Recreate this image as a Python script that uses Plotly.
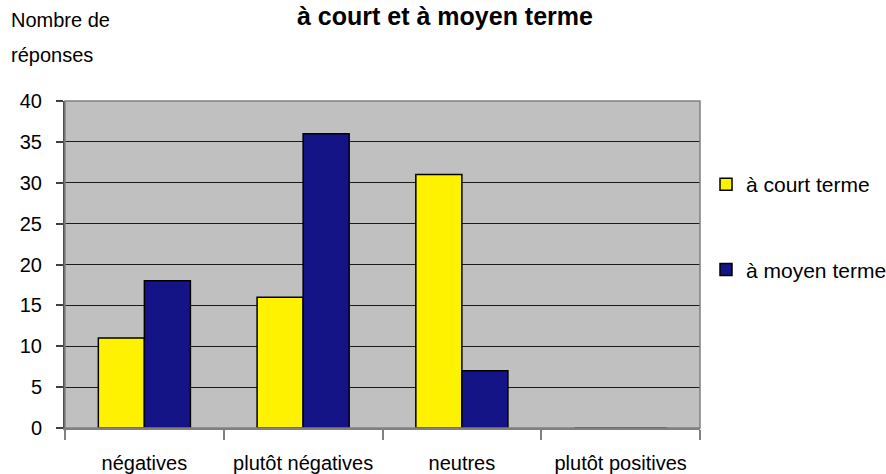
import plotly.graph_objects as go

categories = ["négatives", "plutôt négatives", "neutres", "plutôt positives"]
court_terme = [11, 16, 31, 0]
moyen_terme = [18, 36, 7, 0]
series_names = ["à court terme", "à moyen terme"]
y_ticks = [0, 5, 10, 15, 20, 25, 30, 35, 40]

FONT = "Liberation Sans, Arial, sans-serif"

W, H = 886, 474
PLOT_L, PLOT_R, PLOT_T, PLOT_B = 65, 700, 101, 428   # pixels of the plot area
PW, PH = PLOT_R - PLOT_L, PLOT_B - PLOT_T


def px_x(x):
    return (x - PLOT_L) / PW


def px_y(y):
    return (PLOT_B - y) / PH


fig = go.Figure()
fig.add_trace(go.Bar(
    x=categories, y=court_terme, name=series_names[0], legendgroup="a",
    marker=dict(color="#FFF200", line=dict(color="#000000", width=1.5)),
))
fig.add_trace(go.Bar(
    x=categories, y=moyen_terme, name=series_names[1], legendgroup="b",
    marker=dict(color="#141487", line=dict(color="#000000", width=1.5)),
))

fig.update_layout(
    width=W, height=H,
    margin=dict(l=PLOT_L, r=W - PLOT_R, t=PLOT_T, b=H - PLOT_B, autoexpand=False),
    paper_bgcolor="white",
    plot_bgcolor="#C0C0C0",
    barmode="group",
    bargap=0.42,
    bargroupgap=0,
    font=dict(family=FONT, size=20, color="#000000"),
    showlegend=True,
    legend=dict(
        x=px_x(706), xanchor="left", y=px_y(227), yanchor="middle",
        traceorder="grouped", tracegroupgap=55,
        font=dict(family=FONT, size=21, color="#000000"),
        bgcolor="rgba(0,0,0,0)",
    ),
    annotations=[
        dict(text="Nombre de", x=px_x(9), xref="paper", xanchor="left", showarrow=False,
             yref="paper", y=px_y(20), yanchor="middle",
             font=dict(family=FONT, size=20)),
        dict(text="réponses", x=px_x(9), xref="paper", xanchor="left", showarrow=False,
             yref="paper", y=px_y(55), yanchor="middle",
             font=dict(family=FONT, size=20)),
        dict(text="<b>à court et à moyen terme</b>", xref="paper", x=px_x(445),
             xanchor="center", showarrow=False,
             yref="paper", y=px_y(0), yanchor="top",
             font=dict(family=FONT, size=25)),
    ],
)

fig.update_xaxes(
    type="category",
    tickson="boundaries",
    ticks="outside", ticklen=10, tickcolor="#808080", tickwidth=1.5,
    showline=True, linecolor="#808080", linewidth=2,
    showgrid=False,
    ticklabelstandoff=16,
    tickfont=dict(family=FONT, size=20),
)
fig.update_yaxes(
    range=[0, 40],
    tickvals=y_ticks,
    ticks="outside", ticklen=7, tickcolor="#404040", tickwidth=1.5,
    showline=True, linecolor="#505050", linewidth=2,
    showgrid=True, gridcolor="#1a1a1a", gridwidth=1,
    zeroline=False,
    tickfont=dict(family=FONT, size=20),
    ticklabelstandoff=10,
)
fig.add_shape(type="rect", xref="paper", yref="paper", x0=0, x1=1, y0=0, y1=1,
              line=dict(color="#808080", width=1.5), fillcolor="rgba(0,0,0,0)", layer="above")

fig.write_html("out.html", config={"displayModeBar": False},
               post_script="document.body.style.margin='0';")
